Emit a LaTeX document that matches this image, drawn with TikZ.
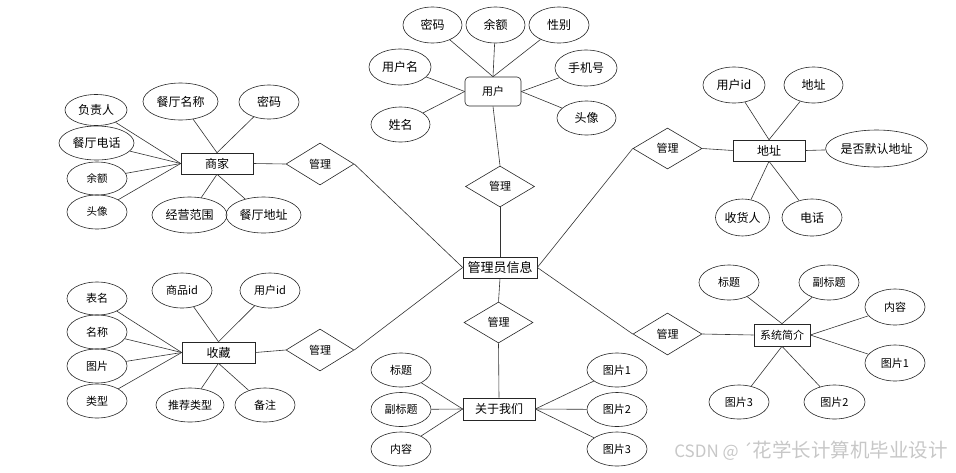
\documentclass[tikz,border=0pt]{standalone}
\usepackage{fontspec}
\setmainfont{Noto Sans CJK SC}
\usetikzlibrary{shapes.geometric}
\tikzset{
  attr/.style={draw=black!85, ellipse, inner sep=0pt, font=\fontsize{12}{12}\selectfont},
  ent/.style={draw=black!85, rectangle, inner sep=0pt, font=\fontsize{12}{12}\selectfont},
  rel/.style={draw=black!85, diamond, inner sep=0pt, minimum width=69pt, minimum height=41pt, font=\fontsize{11}{11}\selectfont},
  lk/.style={draw=black!80, line width=0.6pt},
  every node/.append style={line width=0.6pt}
}
\begin{document}
\begin{tikzpicture}[x=1pt,y=-1pt]
\useasboundingbox (0,0) rectangle (956,472);
% central
\node[ent, minimum width=74pt, minimum height=21pt, font=\fontsize{13}{13}\selectfont] (adm) at (500,267.5) {管理员信息};
% user
\node[ent, rounded corners=4pt, minimum width=56pt, minimum height=29pt, font=\fontsize{11}{11}\selectfont] (yh) at (493,91.5) {用户};
\node[attr, minimum width=59pt, minimum height=36pt] (yh1) at (432.5,25) {密码};
\node[attr, minimum width=59pt, minimum height=36pt] (yh2) at (495.5,25) {余额};
\node[attr, minimum width=60pt, minimum height=36pt] (yh3) at (559,25) {性别};
\node[attr, minimum width=62pt, minimum height=36pt] (yh4) at (400,67) {用户名};
\node[attr, minimum width=59pt, minimum height=35pt] (yh5) at (400.5,124.5) {姓名};
\node[attr, minimum width=62pt, minimum height=36pt] (yh6) at (586,68) {手机号};
\node[attr, minimum width=59pt, minimum height=34pt] (yh7) at (586.5,118) {头像};
\node[rel] (r1) at (500,186.5) {管理};
\draw[lk] (yh.north) -- (yh1);
\draw[lk] (yh.north) -- (yh2);
\draw[lk] (yh.north) -- (yh3);
\draw[lk] (yh.west) -- (yh4);
\draw[lk] (yh.west) -- (yh5);
\draw[lk] (yh.east) -- (yh6);
\draw[lk] (yh.east) -- (yh7);
\draw[lk] (yh.south) -- (r1.north);
\draw[lk] (r1.south) -- (adm.north);
% merchant
\node[ent, minimum width=72pt, minimum height=21pt] (sj) at (217,163.5) {商家};
\node[attr, minimum width=62pt, minimum height=31pt] (sj1) at (96,110) {负责人};
\node[attr, minimum width=75pt, minimum height=34pt] (sj2) at (96.5,143) {餐厅电话};
\node[attr, minimum width=60pt, minimum height=33pt, font=\fontsize{10.5}{10.5}\selectfont] (sj3) at (97,178.5) {余额};
\node[attr, minimum width=60pt, minimum height=34pt, font=\fontsize{10.5}{10.5}\selectfont] (sj4) at (97,212) {头像};
\node[attr, minimum width=75pt, minimum height=37pt] (sj5) at (180.5,101.5) {餐厅名称};
\node[attr, minimum width=60pt, minimum height=34pt] (sj6) at (269,102) {密码};
\node[attr, minimum width=75pt, minimum height=36pt] (sj7) at (189.5,215) {经营范围};
\node[attr, minimum width=75pt, minimum height=36pt] (sj8) at (263.5,215) {餐厅地址};
\node[rel, minimum width=68pt, minimum height=42pt] (r2) at (320,164) {管理};
\draw[lk] (sj.west) -- (sj1);
\draw[lk] (sj.west) -- (sj2);
\draw[lk] (sj.west) -- (sj3);
\draw[lk] (sj.west) -- (sj4);
\draw[lk] (sj.north) -- (sj5);
\draw[lk] (sj.north) -- (sj6);
\draw[lk] (sj.south) -- (sj7);
\draw[lk] (sj.south) -- (sj8);
\draw[lk] (sj.east) -- (r2.west);
\draw[lk] (r2.east) -- (adm.west);
% address
\node[ent, minimum width=72pt, minimum height=21pt] (dz) at (769,150.5) {地址};
\node[attr, minimum width=62pt, minimum height=36pt] (dz1) at (734,85) {用户id};
\node[attr, minimum width=59pt, minimum height=36pt] (dz2) at (813.5,85) {地址};
\node[attr, minimum width=101pt, minimum height=37pt] (dz3) at (876.5,148.5) {是否默认地址};
\node[attr, minimum width=54pt, minimum height=37pt] (dz4) at (742.5,217.5) {收货人};
\node[attr, minimum width=60pt, minimum height=37pt] (dz5) at (812,217.5) {电话};
\node[rel] (r3) at (667.5,148.5) {管理};
\draw[lk] (dz.north) -- (dz1);
\draw[lk] (dz.north) -- (dz2);
\draw[lk] (dz.east) -- (dz3);
\draw[lk] (dz.south) -- (dz4);
\draw[lk] (dz.south) -- (dz5);
\draw[lk] (r3.east) -- (dz.west);
\draw[lk] (adm.east) -- (r3.west);
% favourites
\node[ent, minimum width=73pt, minimum height=21pt] (sc) at (218.5,352.5) {收藏};
\node[attr, minimum width=60pt, minimum height=33pt, font=\fontsize{11}{11}\selectfont] (sc1) at (97,298.5) {表名};
\node[attr, minimum width=60pt, minimum height=34pt, font=\fontsize{11}{11}\selectfont] (sc2) at (97,332) {名称};
\node[attr, minimum width=60pt, minimum height=34pt, font=\fontsize{11}{11}\selectfont] (sc3) at (97,366) {图片};
\node[attr, minimum width=60pt, minimum height=34pt, font=\fontsize{11}{11}\selectfont] (sc4) at (97,401) {类型};
\node[attr, minimum width=60pt, minimum height=35pt, font=\fontsize{11}{11}\selectfont] (sc5) at (182,290.5) {商品id};
\node[attr, minimum width=60pt, minimum height=35pt, font=\fontsize{11}{11}\selectfont] (sc6) at (270,290.5) {用户id};
\node[attr, minimum width=68pt, minimum height=34pt, font=\fontsize{11}{11}\selectfont] (sc7) at (190,405) {推荐类型};
\node[attr, minimum width=60pt, minimum height=34pt, font=\fontsize{11}{11}\selectfont] (sc8) at (265,405) {备注};
\node[rel, minimum width=68pt, minimum height=42pt] (r4) at (320,350) {管理};
\draw[lk] (sc.west) -- (sc1);
\draw[lk] (sc.west) -- (sc2);
\draw[lk] (sc.west) -- (sc3);
\draw[lk] (sc.west) -- (sc4);
\draw[lk] (sc.north) -- (sc5);
\draw[lk] (sc.north) -- (sc6);
\draw[lk] (sc.south) -- (sc7);
\draw[lk] (sc.south) -- (sc8);
\draw[lk] (sc.east) -- (r4.west);
\draw[lk] (r4.east) -- (adm.west);
% about us
\node[ent, minimum width=72pt, minimum height=22pt] (gy) at (499,409) {关于我们};
\node[attr, minimum width=60pt, minimum height=34pt, font=\fontsize{11}{11}\selectfont] (gy1) at (401,370) {标题};
\node[attr, minimum width=60pt, minimum height=34pt, font=\fontsize{11}{11}\selectfont] (gy2) at (401,409.5) {副标题};
\node[attr, minimum width=60pt, minimum height=34pt, font=\fontsize{11}{11}\selectfont] (gy3) at (401,449) {内容};
\node[attr, minimum width=60pt, minimum height=34pt, font=\fontsize{11}{11}\selectfont] (gy4) at (617,370) {图片1};
\node[attr, minimum width=60pt, minimum height=34pt, font=\fontsize{11}{11}\selectfont] (gy5) at (617,409.5) {图片2};
\node[attr, minimum width=60pt, minimum height=34pt, font=\fontsize{11}{11}\selectfont] (gy6) at (617,449) {图片3};
\node[rel] (r5) at (498.5,322.5) {管理};
\draw[lk] (adm.south) -- (r5.north);
\draw[lk] (r5.south) -- (gy.north);
\draw[lk] (gy.west) -- (gy1);
\draw[lk] (gy.west) -- (gy2);
\draw[lk] (gy.west) -- (gy3);
\draw[lk] (gy.east) -- (gy4);
\draw[lk] (gy.east) -- (gy5);
\draw[lk] (gy.east) -- (gy6);
% system intro
\node[ent, minimum width=56pt, minimum height=22pt, font=\fontsize{11}{11}\selectfont] (xt) at (782,335) {系统简介};
\node[attr, minimum width=60pt, minimum height=35pt, font=\fontsize{11}{11}\selectfont] (xt1) at (729,282.5) {标题};
\node[attr, minimum width=60pt, minimum height=35pt, font=\fontsize{11}{11}\selectfont] (xt2) at (829,282.5) {副标题};
\node[attr, minimum width=60pt, minimum height=36pt, font=\fontsize{11}{11}\selectfont] (xt3) at (895,307) {内容};
\node[attr, minimum width=60pt, minimum height=36pt, font=\fontsize{11}{11}\selectfont] (xt4) at (895,363) {图片1};
\node[attr, minimum width=60pt, minimum height=34pt, font=\fontsize{11}{11}\selectfont] (xt5) at (739,402) {图片3};
\node[attr, minimum width=61pt, minimum height=34pt, font=\fontsize{11}{11}\selectfont] (xt6) at (834.5,402) {图片2};
\node[rel, minimum height=42pt] (r6) at (667.5,334) {管理};
\draw[lk] (xt.north) -- (xt1);
\draw[lk] (xt.north) -- (xt2);
\draw[lk] (xt.east) -- (xt3);
\draw[lk] (xt.east) -- (xt4);
\draw[lk] (xt.south) -- (xt5);
\draw[lk] (xt.south) -- (xt6);
\draw[lk] (r6.east) -- (xt.west);
\draw[lk] (adm.east) -- (r6.west);
% watermark
\node[text=black!22, font=\fontsize{17}{17}\selectfont, anchor=west, inner sep=0pt] (wm) at (674,451) {CSDN @ ´\fontsize{19.5}{19.5}\selectfont 花学长计算机毕业设计};
\end{tikzpicture}
\end{document}
